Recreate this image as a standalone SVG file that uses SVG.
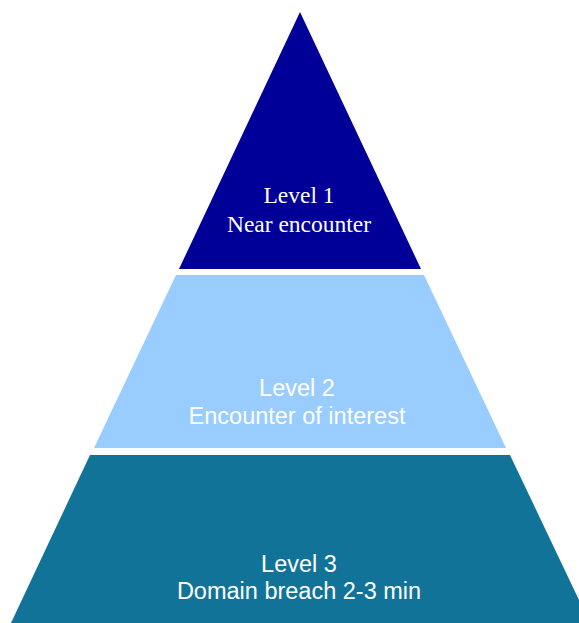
<svg xmlns="http://www.w3.org/2000/svg" width="579" height="623" viewBox="0 0 579 623">
  <style>
    .lbl { fill: #ffffff; text-anchor: middle; font-size: 23.5px; }
    .serif { font-family: "Liberation Serif", "Times New Roman", serif; }
    .sans { font-family: "Liberation Sans", Arial, sans-serif; }
  </style>
  <rect width="579" height="623" fill="#ffffff"/>
  <!-- Top tier -->
  <g id="level1">
    <polygon points="300,12 421,269 179,269" fill="#000099"/>
    <text class="lbl serif" x="299" y="203">Level 1</text>
    <text class="lbl serif" x="299" y="232">Near encounter</text>
  </g>
  <!-- Middle tier -->
  <g id="level2">
    <polygon points="176,275 424,275 506,448 94,448" fill="#99ccff"/>
    <text class="lbl sans" x="297" y="396">Level 2</text>
    <text class="lbl sans" x="297" y="424">Encounter of interest</text>
  </g>
  <!-- Base tier -->
  <g id="level3">
    <polygon points="90,455 510,455 590,623 11,623" fill="#127399"/>
    <text class="lbl sans" x="299" y="572">Level 3</text>
    <text class="lbl sans" x="299" y="599">Domain breach 2-3 min</text>
  </g>
  <g id="connectors"/>
</svg>
